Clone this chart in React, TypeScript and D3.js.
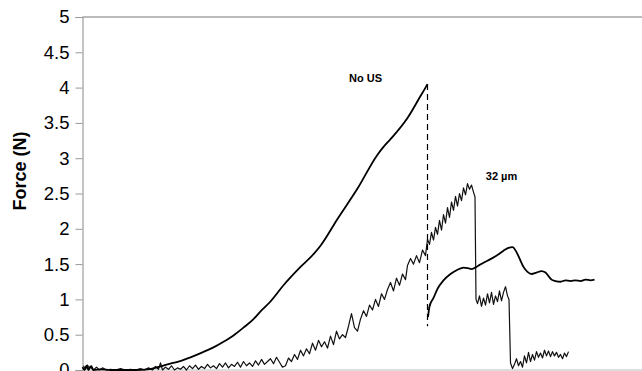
import * as d3 from 'd3';
import React, { useEffect, useRef } from 'react';

// time axis is unlabelled in the source, so samples are in arbitrary units (0..560)
const noUsLoading: [number, number][] = [
  [0, 0.04], [2, 0.0], [4, 0.06], [6, 0.0], [8, 0.05], [11, 0.0], [18, 0.01], [28, 0.0],
  [41, 0.0], [53, 0.0], [65, 0.01], [75, 0.04], [85, 0.08], [96, 0.12], [108, 0.18],
  [120, 0.25], [131, 0.32], [141, 0.4], [151, 0.49], [161, 0.6], [171, 0.72], [178, 0.83],
  [188, 0.97], [201, 1.2], [218, 1.46], [231, 1.64], [238, 1.76], [255, 2.14], [275, 2.57],
  [295, 3.05], [301, 3.16], [308, 3.27], [325, 3.57], [338, 3.88], [343, 4.0], [345, 4.05],
];

const noUsAfter: [number, number][] = [
  [345.5, 0.75], [347, 0.9], [351, 1.02], [355, 1.15], [361, 1.27], [368, 1.36], [375, 1.42],
  [381, 1.45], [386, 1.44], [389, 1.43], [395, 1.47], [401, 1.52], [408, 1.57], [415, 1.63],
  [421, 1.69], [426, 1.73], [430, 1.74], [434, 1.67], [438, 1.55], [441, 1.46], [445, 1.39],
  [449, 1.36], [454, 1.38], [459, 1.4], [463, 1.38], [466, 1.33], [469, 1.28], [473, 1.26],
  [478, 1.25], [483, 1.27], [488, 1.26], [493, 1.27], [498, 1.26], [503, 1.28], [508, 1.27],
  [512, 1.28],
];

const breakLine: [number, number][] = [[345, 4.05], [345, 0.62]];

const amp32: [number, number][] = [
  [1, 0.06], [3, 0.01], [5, 0.07], [7, 0.02], [9, 0.06], [11, 0.0], [14, 0.04], [17, 0.0],
  [20, 0.03], [24, 0.0], [28, 0.01], [33, 0.0], [38, 0.02], [43, 0.0], [48, 0.01], [53, 0.0],
  [58, 0.02], [62, 0.0], [66, 0.03], [70, 0.0], [73, 0.05], [76, 0.01], [78, 0.1], [80, 0.0],
  [83, 0.04], [86, 0.01], [89, 0.06], [92, 0.0], [95, 0.03], [98, 0.01], [101, 0.05], [104, 0.0],
  [107, 0.06], [110, 0.02], [113, 0.07], [116, 0.01], [119, 0.05], [122, 0.02], [125, 0.08],
  [128, 0.03], [131, 0.06], [134, 0.02], [137, 0.09], [140, 0.04], [143, 0.1], [146, 0.03],
  [149, 0.08], [152, 0.05], [155, 0.11], [158, 0.04], [161, 0.12], [164, 0.06], [167, 0.1],
  [170, 0.05], [173, 0.13], [176, 0.07], [179, 0.15], [182, 0.08], [185, 0.12], [188, 0.16],
  [191, 0.09], [194, 0.18], [197, 0.11], [200, 0.04], [203, 0.06], [206, 0.17], [209, 0.12],
  [212, 0.22], [215, 0.15], [218, 0.28], [221, 0.2], [224, 0.3], [227, 0.23], [230, 0.38],
  [233, 0.28], [236, 0.42], [239, 0.33], [242, 0.4], [245, 0.31], [248, 0.48], [251, 0.36],
  [254, 0.55], [257, 0.44], [260, 0.5], [263, 0.46], [266, 0.62], [269, 0.8], [272, 0.6],
  [275, 0.55], [278, 0.72], [281, 0.84], [284, 0.76], [287, 0.92], [290, 0.85], [293, 1.0],
  [296, 0.9], [299, 1.08], [302, 1.0], [305, 1.14], [308, 1.24], [311, 1.12], [314, 1.3],
  [317, 1.2], [320, 1.36], [323, 1.28], [325, 1.48], [328, 1.58], [331, 1.5], [334, 1.62],
  [337, 1.52], [340, 1.7], [343, 1.62], [345, 1.85], [347, 1.78], [349, 1.95], [351, 1.84],
  [353, 2.02], [355, 1.92], [357, 2.12], [359, 1.98], [361, 2.2], [363, 2.08], [365, 2.3],
  [367, 2.16], [369, 2.38], [371, 2.26], [373, 2.46], [375, 2.32], [377, 2.5], [379, 2.4],
  [381, 2.58], [383, 2.48], [385, 2.64], [387, 2.56], [389, 2.62], [391, 2.52], [392.5, 2.45],
  [393.5, 1.0], [395, 0.94], [397, 1.05], [399, 0.9], [401, 1.02], [403, 0.92], [405, 1.08],
  [407, 0.95], [409, 1.1], [411, 0.93], [413, 1.05], [415, 0.97], [417, 1.12], [419, 0.98],
  [421, 1.1], [423, 1.18], [425, 1.05], [426.5, 1.0], [428, 0.1], [430, 0.02], [432, 0.08],
  [434, 0.16], [436, 0.06], [438, 0.12], [440, 0.04], [442, 0.2], [444, 0.1], [446, 0.25],
  [448, 0.12], [450, 0.22], [452, 0.14], [454, 0.26], [456, 0.18], [458, 0.24], [460, 0.17],
  [462, 0.28], [464, 0.2], [466, 0.27], [468, 0.19], [470, 0.26], [472, 0.2], [474, 0.25],
  [476, 0.18], [478, 0.22], [480, 0.16], [482, 0.24], [484, 0.19], [486, 0.26],
];

const yTicks = [0, 0.5, 1, 1.5, 2, 2.5, 3, 3.5, 4, 4.5, 5];

const labels = [
  { text: 'No US', x: 283, y: 4.13 },
  { text: '32 µm', x: 419, y: 2.75 },
];

const App: React.FC = () => {
  const ref = useRef<SVGSVGElement>(null);

  useEffect(() => {
    if (!ref.current) return;
    const width = 642;
    const height = 371;

    const svg = d3.select(ref.current);
    svg.selectAll('*').remove();
    svg.attr('width', width).attr('height', height);

    const x = d3.scaleLinear().domain([0, 560]).range([82.5, 642.5]);
    const y = d3.scaleLinear().domain([0, 5]).range([370, 17]);

    // frame lines
    svg.append('line')
      .attr('x1', x(0)).attr('x2', width)
      .attr('y1', y(5)).attr('y2', y(5))
      .attr('stroke', '#777').attr('stroke-width', 1);
    svg.append('line')
      .attr('x1', x(0)).attr('x2', width)
      .attr('y1', y(0)).attr('y2', y(0))
      .attr('stroke', '#bbb').attr('stroke-width', 1);

    const axis = svg.append('g')
      .attr('transform', `translate(${x(0)},0)`)
      .call(d3.axisLeft(y).tickValues(yTicks).tickSize(7).tickPadding(6).tickFormat(d3.format('')));
    axis.select('.domain').attr('stroke', '#888');
    axis.selectAll('.tick line').attr('stroke', '#999');
    axis.selectAll('.tick text')
      .attr('fill', '#000')
      .style('font-family', 'Arial, "Liberation Sans", sans-serif')
      .style('font-size', '18.5px');

    svg.append('text')
      .attr('transform', `translate(26,171) rotate(-90)`)
      .attr('text-anchor', 'middle')
      .style('font-family', 'Arial, "Liberation Sans", sans-serif')
      .style('font-size', '18px')
      .style('font-weight', 'bold')
      .text('Force (N)');

    const line = d3.line<[number, number]>()
      .x(d => x(d[0]))
      .y(d => y(d[1]));

    const smooth = d3.line<[number, number]>()
      .x(d => x(d[0]))
      .y(d => y(d[1]))
      .curve(d3.curveMonotoneX);

    svg.append('path')
      .datum(amp32)
      .attr('d', line)
      .attr('fill', 'none')
      .attr('stroke', '#111')
      .attr('stroke-width', 1.2)
      .attr('stroke-linejoin', 'round');

    [noUsLoading, noUsAfter].forEach(seg => {
      svg.append('path')
        .datum(seg)
        .attr('d', smooth)
        .attr('fill', 'none')
        .attr('stroke', '#000')
        .attr('stroke-width', 1.8)
        .attr('stroke-linejoin', 'round');
    });

    svg.append('path')
      .datum(breakLine)
      .attr('d', line)
      .attr('fill', 'none')
      .attr('stroke', '#000')
      .attr('stroke-width', 1.2)
      .attr('stroke-dasharray', '6,4');

    svg.selectAll('.curve-label')
      .data(labels)
      .enter()
      .append('text')
      .attr('class', 'curve-label')
      .attr('x', d => x(d.x))
      .attr('y', d => y(d.y))
      .attr('text-anchor', 'middle')
      .attr('dy', '0.35em')
      .style('font-family', 'Arial, "Liberation Sans", sans-serif')
      .style('font-size', '11px')
      .style('font-weight', 'bold')
      .text(d => d.text);
  }, []);

  return <svg ref={ref} style={{ position: 'absolute', left: 0, top: 0, display: 'block' }} />;
};

export default App;
